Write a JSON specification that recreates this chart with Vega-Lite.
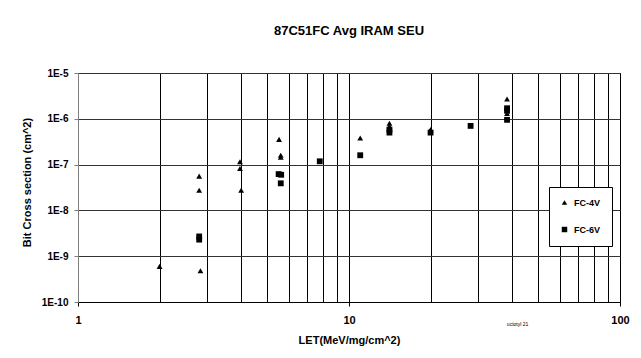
{
  "$schema": "https://vega.github.io/schema/vega-lite/v6.json",
  "autosize": {"type": "none"},
  "padding": {"left": 78, "top": 73, "right": 21, "bottom": 56},
  "width": 542,
  "height": 229,
  "background": "white",
  "title": {
    "text": "87C51FC Avg IRAM SEU",
    "font": "Liberation Sans",
    "fontSize": 13,
    "fontWeight": "bold",
    "color": "#000",
    "anchor": "middle",
    "offset": 30
  },
  "config": {
    "view": {"stroke": "#000", "strokeWidth": 1},
    "font": "Liberation Sans"
  },
  "data": {
    "values": [
      {"series": "FC-4V", "let": 2.0, "xs": 6e-10},
      {"series": "FC-4V", "let": 2.83, "xs": 4.8e-10},
      {"series": "FC-4V", "let": 2.8, "xs": 5.6e-8},
      {"series": "FC-4V", "let": 2.8, "xs": 2.75e-8},
      {"series": "FC-4V", "let": 3.96, "xs": 1.15e-7},
      {"series": "FC-4V", "let": 3.96, "xs": 8.2e-8},
      {"series": "FC-4V", "let": 4.0, "xs": 2.75e-8},
      {"series": "FC-4V", "let": 5.52, "xs": 3.55e-7},
      {"series": "FC-4V", "let": 5.6, "xs": 1.6e-7},
      {"series": "FC-4V", "let": 5.6, "xs": 1.45e-7},
      {"series": "FC-4V", "let": 11.0, "xs": 3.8e-7},
      {"series": "FC-4V", "let": 14.1, "xs": 8.0e-7},
      {"series": "FC-4V", "let": 14.1, "xs": 6.9e-7},
      {"series": "FC-4V", "let": 20.0, "xs": 5.8e-7},
      {"series": "FC-4V", "let": 38.3, "xs": 2.7e-6},
      {"series": "FC-4V", "let": 38.3, "xs": 1.3e-6},
      {"series": "FC-6V", "let": 2.8, "xs": 2.7e-9},
      {"series": "FC-6V", "let": 2.8, "xs": 2.3e-9},
      {"series": "FC-6V", "let": 5.5, "xs": 6.2e-8},
      {"series": "FC-6V", "let": 5.62, "xs": 6.0e-8},
      {"series": "FC-6V", "let": 5.6, "xs": 3.9e-8},
      {"series": "FC-6V", "let": 7.8, "xs": 1.18e-7},
      {"series": "FC-6V", "let": 11.0, "xs": 1.6e-7},
      {"series": "FC-6V", "let": 14.1, "xs": 5.8e-7},
      {"series": "FC-6V", "let": 14.1, "xs": 5.0e-7},
      {"series": "FC-6V", "let": 20.0, "xs": 5.0e-7},
      {"series": "FC-6V", "let": 28.1, "xs": 7.0e-7},
      {"series": "FC-6V", "let": 38.3, "xs": 1.7e-6},
      {"series": "FC-6V", "let": 38.3, "xs": 1.5e-6},
      {"series": "FC-6V", "let": 38.3, "xs": 9.5e-7}
    ]
  },
  "mark": {"type": "point", "filled": true, "fill": "#000", "stroke": null, "opacity": 1, "size": 34},
  "encoding": {
    "x": {
      "field": "let",
      "type": "quantitative",
      "scale": {"type": "log", "domain": [1, 100], "nice": false},
      "axis": {
        "title": "LET(MeV/mg/cm^2)",
        "titleFont": "Liberation Sans",
        "titleFontSize": 11,
        "titleFontWeight": "bold",
        "titleColor": "#000",
        "titlePadding": 8,
        "values": [1, 2, 3, 4, 5, 6, 7, 8, 9, 10, 20, 30, 40, 41.7, 50, 60, 70, 80, 90, 100],
        "labelExpr": "datum.value == 1 || datum.value == 10 || datum.value == 100 ? datum.label : (datum.value > 41 && datum.value < 42 ? 'uctotyl 21' : '')",
        "labelFont": "Liberation Sans",
        "labelFontSize": {"condition": {"test": "datum.value > 41 && datum.value < 42", "value": 5}, "value": 11},
        "labelFontWeight": {"condition": {"test": "datum.value > 41 && datum.value < 42", "value": "normal"}, "value": "bold"},
        "labelPadding": {"condition": {"test": "datum.value > 41 && datum.value < 42", "value": 15}, "value": 8},
        "labelColor": "#000",
        "labelFlush": false,
        "labelOverlap": false,
        "domainColor": "#000",
        "grid": true,
        "gridColor": "#000",
        "gridWidth": 1,
        "gridOpacity": {"condition": {"test": "datum.value > 41 && datum.value < 42", "value": 0}, "value": 1},
        "tickColor": "#000",
        "tickSize": 4,
        "tickOpacity": {"condition": {"test": "datum.value == 1 || datum.value == 10 || datum.value == 100", "value": 1}, "value": 0}
      }
    },
    "y": {
      "field": "xs",
      "type": "quantitative",
      "scale": {"type": "log", "domain": [1e-10, 1e-5], "nice": false},
      "axis": {
        "title": "Bit Cross section (cm^2)",
        "titleFont": "Liberation Sans",
        "titleFontSize": 11,
        "titleFontWeight": "bold",
        "titleColor": "#000",
        "titleX": -46,
        "titleY": 109,
        "values": [1e-10, 1e-9, 1e-8, 1e-7, 1e-6, 1e-5],
        "labelExpr": "'1E' + round(log(datum.value) / LN10)",
        "labelFont": "Liberation Sans",
        "labelFontSize": 10,
        "labelFontWeight": "bold",
        "labelColor": "#000",
        "labelPadding": 6,
        "domainColor": "#808080",
        "grid": true,
        "gridColor": "#333",
        "gridWidth": 1,
        "tickColor": "#808080",
        "tickSize": 4
      }
    },
    "shape": {
      "field": "series",
      "type": "nominal",
      "scale": {"domain": ["FC-4V", "FC-6V"], "range": ["triangle-up", "square"]},
      "legend": {
        "title": null,
        "orient": "none",
        "legendX": 471,
        "legendY": 114,
        "direction": "vertical",
        "fillColor": "#fff",
        "strokeColor": "#000",
        "padding": 11,
        "rowPadding": 17,
        "symbolFillColor": "#000",
        "symbolStrokeColor": "#000",
        "symbolStrokeWidth": 0,
        "symbolSize": 30,
        "labelFont": "Liberation Sans",
        "labelFontSize": 9,
        "labelFontWeight": "bold",
        "labelColor": "#000",
        "labelOffset": 5
      }
    }
  }
}
